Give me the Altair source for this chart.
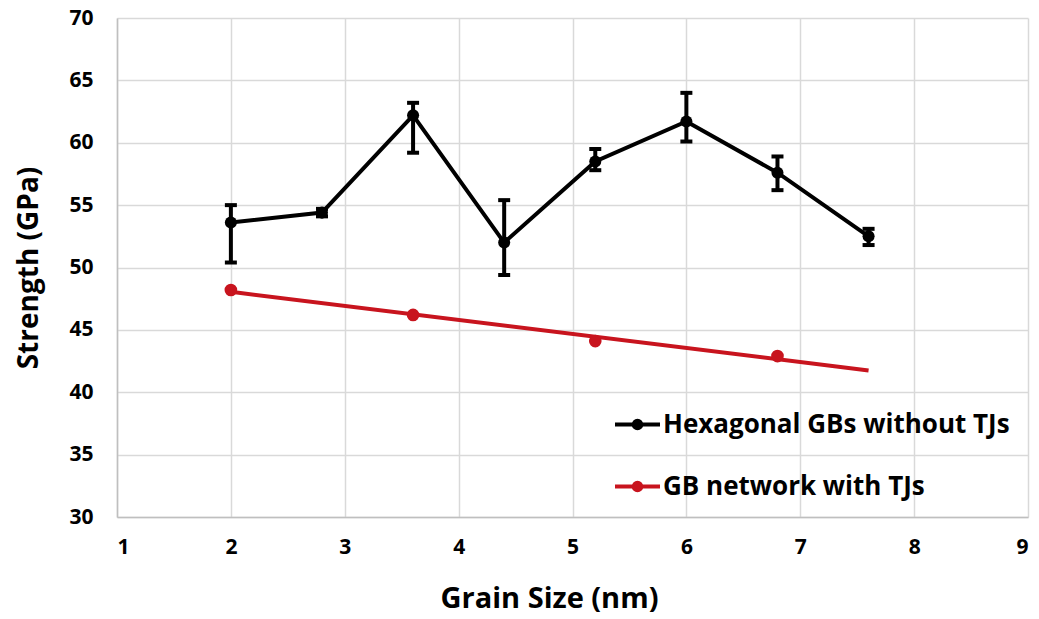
import altair as alt
import pandas as pd

# Hexagonal GBs without TJs
hex_x = [2.0, 2.8, 3.6, 4.4, 5.2, 6.0, 6.8, 7.6]
hex_y = [53.6, 54.4, 62.2, 52.0, 58.5, 61.7, 57.6, 52.5]
hex_lo = [50.4, 54.1, 59.2, 49.4, 57.8, 60.1, 56.2, 51.8]
hex_hi = [55.0, 54.7, 63.2, 55.4, 59.5, 64.0, 58.9, 53.1]

# GB network with TJs
net_x = [2.0, 3.6, 5.2, 6.8]
net_y = [48.2, 46.2, 44.1, 42.9]
trend_extent = [2.0, 7.6]

series_names = ["Hexagonal GBs without TJs", "GB network with TJs"]
series_colors = ["#000000", "#c8141e"]

x_ticks = [1, 2, 3, 4, 5, 6, 7, 8, 9]
y_ticks = [30, 35, 40, 45, 50, 55, 60, 65, 70]

hex_df = pd.DataFrame({"x": hex_x, "y": hex_y, "lo": hex_lo, "hi": hex_hi,
                       "series": series_names[0]})
net_df = pd.DataFrame({"x": net_x, "y": net_y, "series": series_names[1]})

FONT = "Open Sans"
# legend glyph: a line with a dot drawn as concentric stroked rings
SYMBOL = ("M-1,0L1,0"
          "M-0.17,0a0.17,0.17 0 1,0 0.34,0a0.17,0.17 0 1,0 -0.34,0"
          "M-0.08,0a0.08,0.08 0 1,0 0.16,0a0.08,0.08 0 1,0 -0.16,0")

x_enc = alt.X("x:Q", scale=alt.Scale(domain=[1, 9], nice=False, zero=False),
              axis=alt.Axis(values=x_ticks, title="Grain Size (nm)", format="d",
                            titleX=432))
y_enc = alt.Y("y:Q", scale=alt.Scale(domain=[30, 70], nice=False, zero=False),
              axis=alt.Axis(values=y_ticks, title="Strength (GPa)"))

color_scale = alt.Scale(domain=series_names, range=series_colors)
legend = alt.Legend(
    title=None, orient="none", legendX=496, legendY=382,
    symbolType=SYMBOL, symbolSize=2025, symbolStrokeWidth=4, symbolOpacity=1,
    labelFont=FONT, labelFontSize=26, labelFontWeight="bold", labelColor="black",
    rowPadding=24, labelOffset=1, padding=0, labelLimit=600,
)

hex_line = alt.Chart(hex_df).mark_line(strokeWidth=4).encode(
    x=x_enc, y=y_enc,
    color=alt.Color("series:N", scale=color_scale, legend=legend),
)

hex_rule = alt.Chart(hex_df).mark_rule(strokeWidth=4, color="black").encode(
    x="x:Q", y="lo:Q", y2="hi:Q")
hex_cap_lo = alt.Chart(hex_df).mark_tick(orient="horizontal", size=12, thickness=4,
                                         color="black", opacity=1).encode(x="x:Q", y="lo:Q")
hex_cap_hi = alt.Chart(hex_df).mark_tick(orient="horizontal", size=12, thickness=4,
                                         color="black", opacity=1).encode(x="x:Q", y="hi:Q")

hex_pts = alt.Chart(hex_df).mark_point(filled=True, size=145, opacity=1,
                                       color=series_colors[0]).encode(x="x:Q", y="y:Q")

net_pts = alt.Chart(net_df).mark_point(filled=True, size=160, opacity=1,
                                       color=series_colors[1]).encode(x="x:Q", y="y:Q")

net_trend = alt.Chart(net_df).transform_regression(
    "x", "y", extent=trend_extent, groupby=["series"]
).mark_line(strokeWidth=4).encode(
    x="x:Q", y="y:Q",
    color=alt.Color("series:N", scale=color_scale, legend=legend),
)

chart = alt.layer(
    net_trend, hex_line, hex_rule, hex_cap_lo, hex_cap_hi, hex_pts, net_pts
).properties(
    width=911, height=499,
    background="white",
    autosize=alt.AutoSizeParams(type="none"),
    padding={"left": 117, "top": 18, "right": 11, "bottom": 102},
).configure_view(
    stroke=None
).configure_axis(
    grid=True, gridColor="#d9d9d9", gridWidth=1.5,
    domainColor="#bfbfbf", domainWidth=1.5,
    ticks=False,
    labelFont=FONT, labelFontSize=21, labelFontWeight="bold", labelColor="black",
    titleFont=FONT, titleFontWeight="bold", titleColor="black",
).configure_axisX(
    labelPadding=19, titleFontSize=29, titlePadding=27,
).configure_axisY(
    labelPadding=24, titleFontSize=28, titlePadding=25,
)

chart.save("out.html", embed_options={"renderer": "svg", "actions": False})
